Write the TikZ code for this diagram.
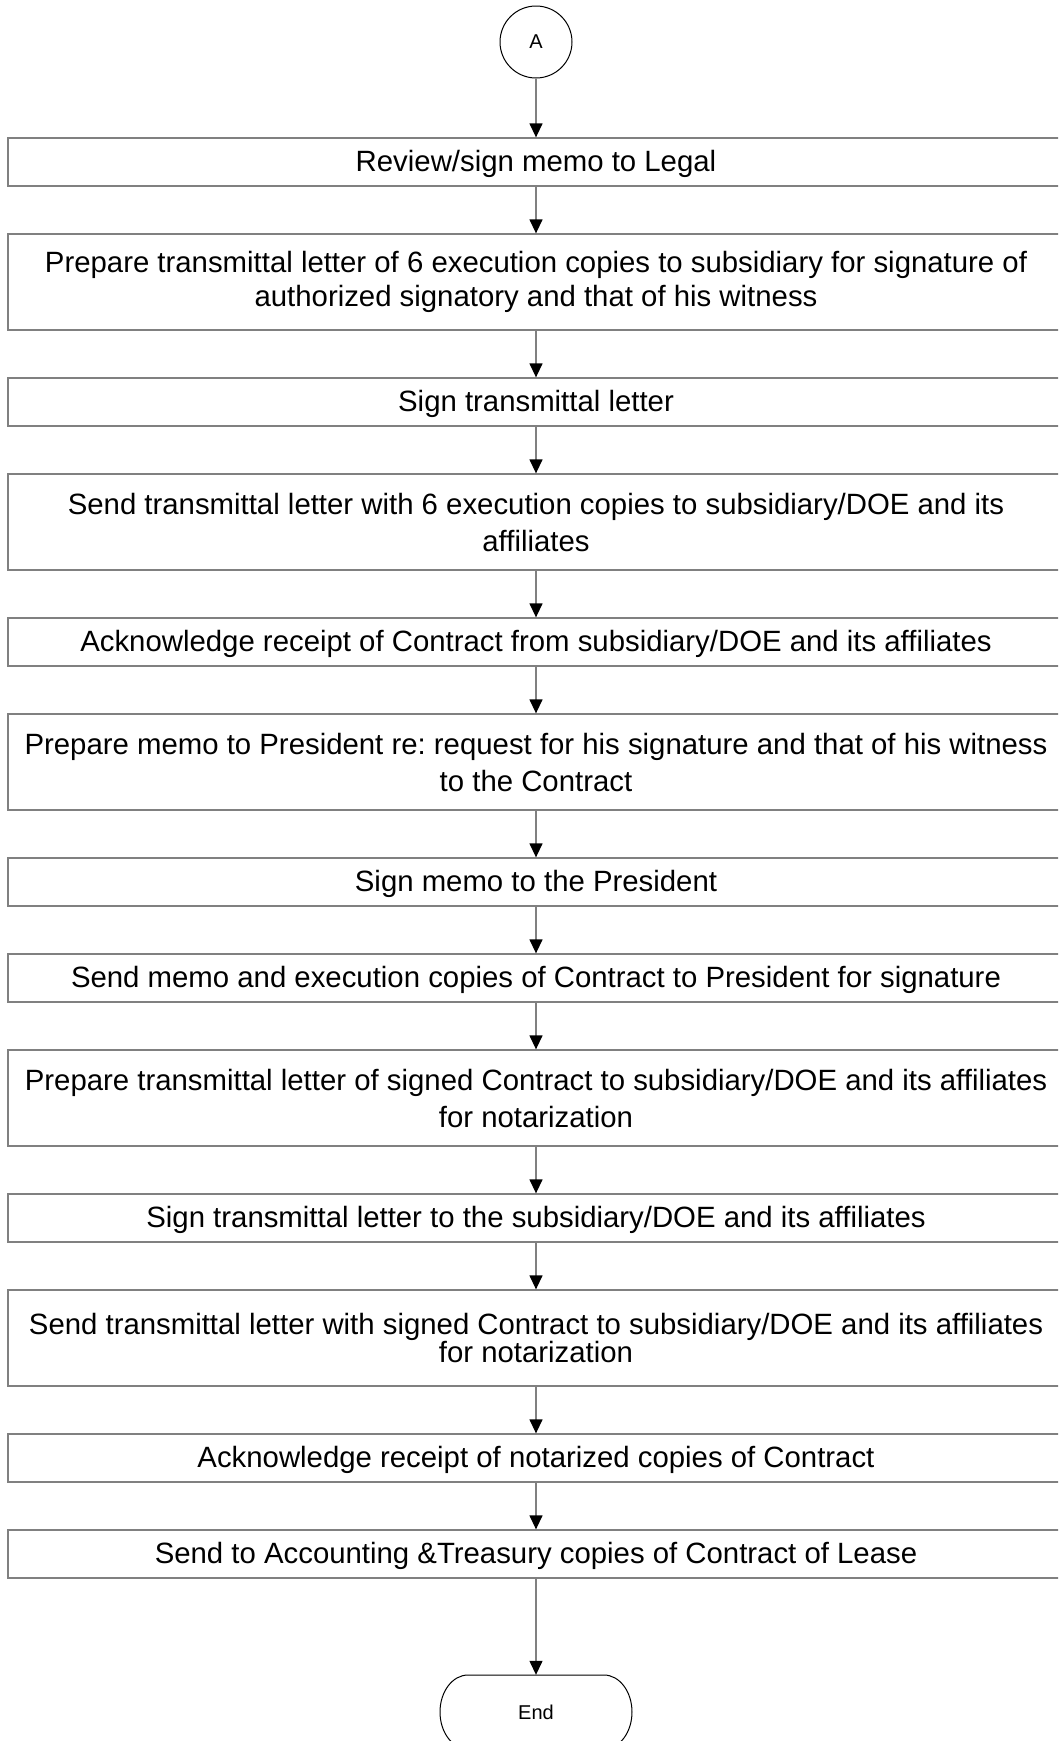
\documentclass[tikz,border=0pt]{standalone}
\usepackage{fontspec}
\setmainfont{Liberation Sans}
\usetikzlibrary{arrows.meta}
\definecolor{linegrey}{HTML}{808080}
\frenchspacing
\begin{document}
\begin{tikzpicture}[x=1pt,y=-1pt,
  boxbase/.style={draw=linegrey, line width=1.3pt, minimum width=1056pt,
    inner sep=0pt, font=\fontsize{29.35}{37}\selectfont\frenchspacing},
  stepbox/.style={boxbase, minimum height=48pt, text height=22pt, text depth=3pt},
  tallbox/.style={boxbase, minimum height=96pt, align=center},
  tightbox/.style={tallbox, font=\fontsize{29.35}{28}\selectfont\frenchspacing},
  midbox/.style={tallbox, font=\fontsize{29.35}{34}\selectfont\frenchspacing},
  flow/.style={draw=linegrey, line width=1.3pt, -{Triangle[length=14pt,width=13pt,color=black]}},
  connector/.style={circle, draw=black, line width=1pt, minimum size=72pt, inner sep=0pt,
    font=\fontsize{20}{24}\selectfont},
  terminal/.style={minimum width=192pt, minimum height=74pt, inner sep=0pt,
    font=\fontsize{20}{24}\selectfont},
]
\useasboundingbox (0,0) rectangle (1058,1741);
\clip (0,0) rectangle (1058,1741);

\node[connector] (A) at (536,42) {A};

\node[stepbox]  (b1)  at (536,162)  {Review/sign memo to Legal};
\node[midbox]   (b2)  at (536,282)  {Prepare transmittal letter of 6 execution copies to subsidiary for signature of\\authorized signatory and that of his witness};
\node[stepbox]  (b3)  at (536,402)  {Sign transmittal letter};
\node[tallbox]  (b4)  at (536,522)  {Send transmittal letter with 6 execution copies to subsidiary/DOE and its\\affiliates};
\node[stepbox]  (b5)  at (536,642)  {Acknowledge receipt of Contract from subsidiary/DOE and its affiliates};
\node[tallbox]  (b6)  at (536,762)  {Prepare memo to President re: request for his signature and that of his witness\\to the Contract};
\node[stepbox]  (b7)  at (536,882)  {Sign memo to the President};
\node[stepbox]  (b8)  at (536,978)  {Send memo and execution copies of Contract to President for signature};
\node[tallbox]  (b9)  at (536,1098) {Prepare transmittal letter of signed Contract to subsidiary/DOE and its affiliates\\for notarization};
\node[stepbox]  (b10) at (536,1218) {Sign transmittal letter to the subsidiary/DOE and its affiliates};
\node[tightbox] (b11) at (536,1338) {Send transmittal letter with signed Contract to subsidiary/DOE and its affiliates\\for notarization};
\node[stepbox]  (b12) at (536,1458) {Acknowledge receipt of notarized copies of Contract};
\node[stepbox]  (b13) at (536,1554) {Send to Accounting \&Treasury copies of Contract of Lease};

\node[terminal] (end) at (536,1712) {End};
\draw[black, line width=1pt, shift={(end.center)}]
  (-68,-37) -- (68,-37) .. controls (83.5,-37) and (96,-20.4) .. (96,0)
  .. controls (96,20.4) and (83.5,37) .. (68,37) -- (-68,37)
  .. controls (-83.5,37) and (-96,20.4) .. (-96,0)
  .. controls (-96,-20.4) and (-83.5,-37) .. (-68,-37) -- cycle;

\draw[flow] (A.south) -- (b1.north);
\draw[flow] (b1.south) -- (b2.north);
\draw[flow] (b2.south) -- (b3.north);
\draw[flow] (b3.south) -- (b4.north);
\draw[flow] (b4.south) -- (b5.north);
\draw[flow] (b5.south) -- (b6.north);
\draw[flow] (b6.south) -- (b7.north);
\draw[flow] (b7.south) -- (b8.north);
\draw[flow] (b8.south) -- (b9.north);
\draw[flow] (b9.south) -- (b10.north);
\draw[flow] (b10.south) -- (b11.north);
\draw[flow] (b11.south) -- (b12.north);
\draw[flow] (b12.south) -- (b13.north);
\draw[flow] (b13.south) -- (end.north);
\end{tikzpicture}
\end{document}
